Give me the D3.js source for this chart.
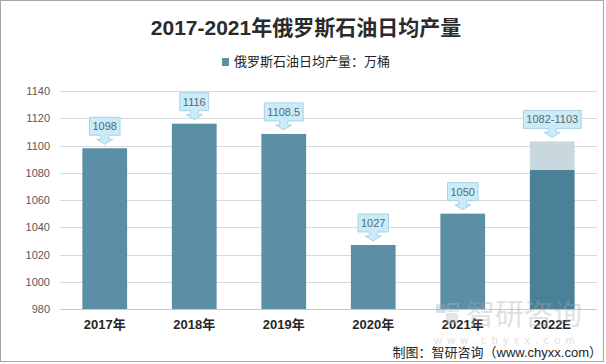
<!DOCTYPE html>
<html>
<head>
<meta charset="utf-8">
<script src="https://cdn.jsdelivr.net/npm/d3@7"></script>
<style>
  html, body { margin: 0; padding: 0; background: #fff; }
  svg { display: block; }
</style>
</head>
<body>
<svg id="chart" width="606" height="364"></svg>
<script>
// ---- data ----
const categories = ["2017年", "2018年", "2019年", "2020年", "2021年", "2022E"];
const values = [1098, 1116, 1108.5, 1027, 1050, 1082];
const rangeHigh = [null, null, null, null, null, 1103];
const labels = ["1098", "1116", "1108.5", "1027", "1050", "1082-1103"];
const yTicks = [980, 1000, 1020, 1040, 1060, 1080, 1100, 1120, 1140];
const titleText = "2017-2021年俄罗斯石油日均产量";
const legendText = "俄罗斯石油日均产量：万桶";
const sourceText = "制图：智研咨询（www.chyxx.com）";

const svg = d3.select("#chart");
const W = 606, H = 364;
const FONT = "'Liberation Sans', Arial, 'Noto Sans CJK SC', sans-serif";

// frame
svg.append("rect").attr("x", 0.5).attr("y", 0.5).attr("width", W - 3).attr("height", H - 3)
  .attr("fill", "#fff").attr("stroke", "#a6a6a6");

const x = d3.scaleBand().domain(categories).range([60, 597]).paddingInner(0.5).paddingOuter(0.25);
const y = d3.scaleLinear().domain([980, 1140]).range([309, 91]);

// gridlines
svg.append("g").selectAll("line").data(yTicks).join("line")
  .attr("x1", 60).attr("x2", 597)
  .attr("y1", d => Math.round(y(d)) + 0.5).attr("y2", d => Math.round(y(d)) + 0.5)
  .attr("stroke", d => d === 980 ? "#c8c8c8" : "#d9d9d9").attr("stroke-width", 1);

// y axis labels
const yAxis = d3.axisLeft(y).tickValues(yTicks).tickFormat(d3.format("d")).tickSize(0).tickPadding(0);
const yg = svg.append("g").attr("transform", "translate(50,0)").call(yAxis);
yg.select(".domain").remove();
yg.selectAll("text").attr("font-family", FONT).attr("font-size", 11).attr("fill", "#595959");

// bars
const barCol = "#5b8fa6", darkCol = "#4a8098", lightCol = "#c9d7de";
const rows = categories.map((c, i) => ({c, v: values[i], h: rangeHigh[i]}));
svg.append("g").selectAll("rect").data(rows.filter(d => d.h != null))
  .join("rect")
  .attr("x", d => x(d.c)).attr("width", x.bandwidth())
  .attr("y", d => y(d.h)).attr("height", d => y(d.v) - y(d.h))
  .attr("fill", lightCol);
svg.append("g").selectAll("rect").data(rows)
  .join("rect")
  .attr("x", d => x(d.c)).attr("width", x.bandwidth())
  .attr("y", d => y(d.v)).attr("height", d => y(980) - y(d.v))
  .attr("fill", d => d.h != null ? darkCol : barCol);

// callouts
const callG = svg.append("g");
categories.forEach((c, i) => {
  const top = y(rangeHigh[i] != null ? rangeHigh[i] : values[i]);
  const cx = x(c) + x.bandwidth() / 2;
  const tip = top - 4;
  const boxB = tip - 9, boxT = boxB - 18;
  const t = callG.append("text").attr("x", cx).attr("y", boxT + 13)
    .attr("text-anchor", "middle").attr("font-family", FONT).attr("font-size", 11)
    .attr("fill", "#5b6770").text(labels[i]);
  const tw = t.node().getComputedTextLength();
  const bw = tw + 6;
  const sh = 4, hw = 8, hh = 3;
  const path = [
    [cx - bw / 2, boxT], [cx + bw / 2, boxT], [cx + bw / 2, boxB],
    [cx + hh + 1, boxB], [cx + hh + 1, boxB + sh], [cx + hw, boxB + sh],
    [cx, tip], [cx - hw, boxB + sh], [cx - hh - 1, boxB + sh], [cx - hh - 1, boxB],
    [cx - bw / 2, boxB]
  ];
  callG.insert("path", "text").attr("d", d3.line()(path) + "Z")
    .attr("fill", "#c9ecf8").attr("stroke", "#a6d3e6").attr("stroke-width", 1);
});

// x labels
const xAxis = d3.axisBottom(x).tickSize(0).tickPadding(0);
const xg = svg.append("g").attr("transform", "translate(0,320)").call(xAxis);
xg.select(".domain").remove();
xg.selectAll("text").attr("font-family", FONT).attr("font-size", 13).attr("font-weight", "bold")
  .attr("fill", "#262626").attr("dy", "0.7em");

// title
svg.append("text").attr("x", 306).attr("y", 35).attr("text-anchor", "middle")
  .attr("font-family", FONT).attr("font-size", 21).attr("font-weight", "bold").attr("fill", "#2b2b2b")
  .text(titleText);

// legend
svg.append("rect").attr("x", 222).attr("y", 58).attr("width", 7).attr("height", 8).attr("fill", barCol);
svg.append("text").attr("x", 234).attr("y", 66).attr("font-family", FONT).attr("font-size", 13)
  .attr("fill", "#262626").text(legendText);

// watermark
const wm = svg.append("g").attr("opacity", 0.35);
wm.append("rect").attr("x", 436).attr("y", 304).attr("width", 10).attr("height", 9).attr("fill", "#9aa7b8");
wm.append("rect").attr("x", 446).attr("y", 313).attr("width", 12).attr("height", 11).attr("fill", "#b8b8b8");
wm.append("rect").attr("x", 448).attr("y", 304).attr("width", 10).attr("height", 7).attr("fill", "none").attr("stroke", "#b8b8b8").attr("stroke-width", 2);
wm.append("text").attr("x", 466).attr("y", 325).attr("font-family", FONT).attr("font-size", 29)
  .attr("fill", "#a8a8a8").text("智研咨询");
wm.append("text").attr("x", 434).attr("y", 344).attr("font-family", FONT).attr("font-size", 11)
  .attr("letter-spacing", 5.2).attr("fill", "#a8a8a8").text("www.chyxx.com");

// source
svg.append("text").attr("x", 602).attr("y", 357).attr("text-anchor", "end")
  .attr("font-family", FONT).attr("font-size", 13).attr("fill", "#262626").text(sourceText);
</script>
</body>
</html>
